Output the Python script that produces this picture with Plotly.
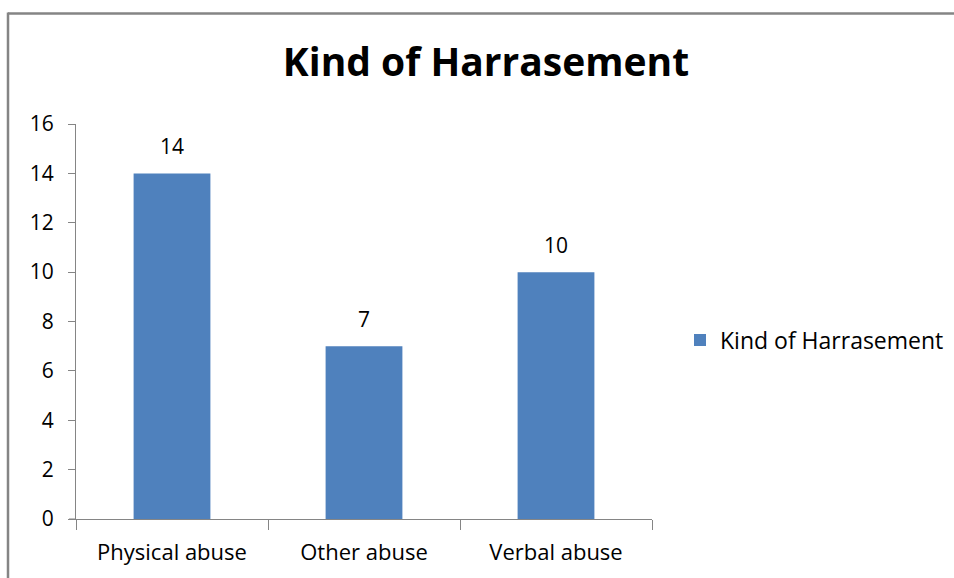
import plotly.graph_objects as go

categories = ["Physical abuse", "Other abuse", "Verbal abuse"]
values = [14, 7, 10]
series_name = "Kind of Harrasement"
y_ticks = [0, 2, 4, 6, 8, 10, 12, 14, 16]

W, H = 954, 578
ml, mr, mt, mb = 76, 302, 124, 59
pw, ph = W - ml - mr, H - mt - mb

def px_x(x):
    return (x - ml) / pw

def px_y(y):
    return (H - mb - y) / ph

font = "Open Sans"
border = "#858585"

fig = go.Figure(
    go.Bar(
        x=categories,
        y=values,
        name=series_name,
        marker=dict(color="#4F81BD", line=dict(width=0)),
        width=0.4,
        showlegend=True,
    )
)

# value labels above each bar
for cat, val in zip(categories, values):
    fig.add_annotation(
        x=cat, y=val, text=str(val), showarrow=False,
        yanchor="bottom", yshift=11,
        font=dict(family=font, size=21, color="#000000"),
    )

fig.update_layout(
    width=W,
    height=H,
    margin=dict(l=ml, r=mr, t=mt, b=mb, autoexpand=False),
    paper_bgcolor="white",
    plot_bgcolor="white",
    title=dict(
        text="<b>Kind of Harrasement</b>",
        x=px_x(486),
        xref="paper",
        xanchor="center",
        y=1 - 62 / H,
        yanchor="middle",
        font=dict(family=font, size=39, color="#000000"),
    ),
    showlegend=True,
    legend=dict(
        x=px_x(680),
        y=px_y(340),
        xanchor="left",
        yanchor="middle",
        font=dict(family=font, size=23, color="#000000"),
        itemwidth=30,
        bgcolor="rgba(0,0,0,0)",
    ),
    bargap=0.6,
    xaxis=dict(
        showline=True,
        linecolor=border,
        linewidth=1,
        ticks="outside",
        tickson="boundaries",
        ticklen=10,
        tickcolor=border,
        ticklabelstandoff=14,
        tickfont=dict(family=font, size=22, color="#000000"),
        showgrid=False,
        zeroline=False,
    ),
    yaxis=dict(
        range=[0, 16],
        tickvals=y_ticks,
        showline=True,
        linecolor=border,
        linewidth=1,
        ticks="outside",
        ticklen=7,
        tickcolor=border,
        ticklabelstandoff=10,
        tickfont=dict(family=font, size=21, color="#000000"),
        showgrid=False,
        zeroline=False,
    ),
    shapes=[
        dict(type="line", xref="paper", yref="paper",
             x0=px_x(8), x1=px_x(W + 5), y0=px_y(13.5), y1=px_y(13.5),
             line=dict(color=border, width=2.5)),
        dict(type="line", xref="paper", yref="paper",
             x0=px_x(8), x1=px_x(8), y0=px_y(12.5), y1=px_y(H + 5),
             line=dict(color=border, width=2.5)),
        dict(type="line", xref="paper", yref="paper",
             x0=px_x(69), x1=px_x(76), y0=0, y1=0,
             line=dict(color=border, width=1)),
    ],
)

fig.write_html("out.html")
